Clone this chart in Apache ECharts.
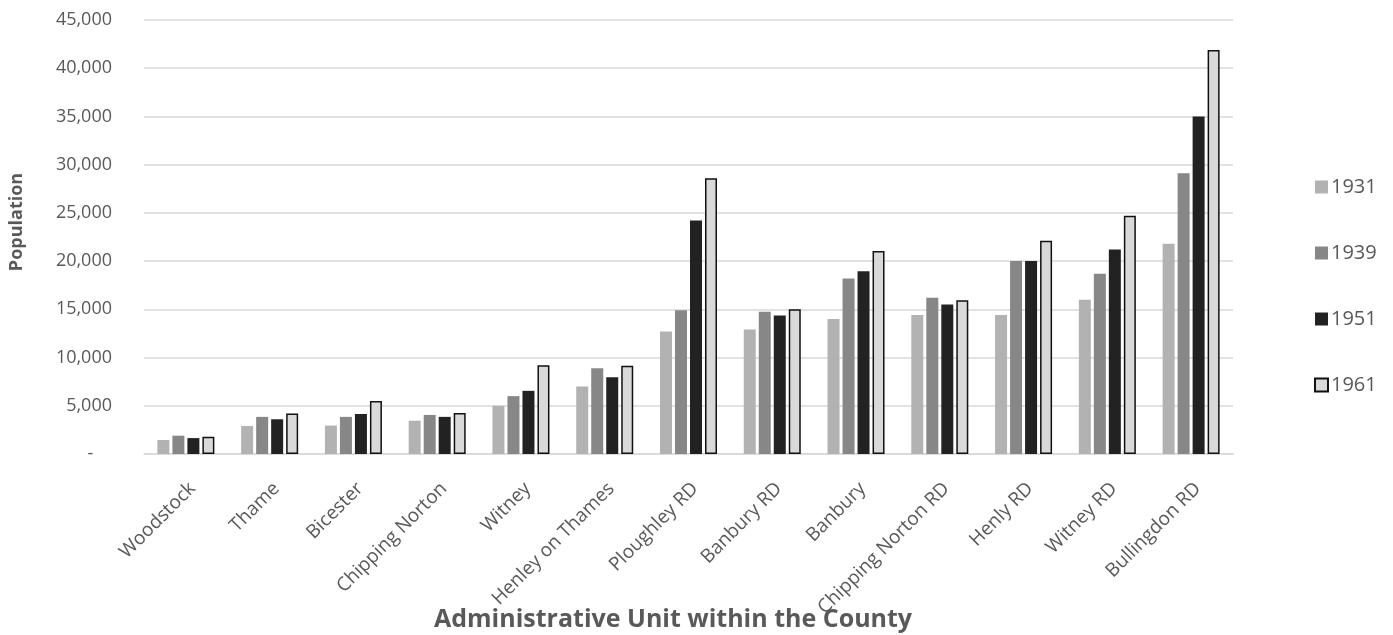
<!DOCTYPE html>
<html>
<head>
<meta charset="utf-8">
<script src="https://cdn.jsdelivr.net/npm/echarts@6/dist/echarts.min.js"></script>
<style>
  html, body { margin: 0; padding: 0; background: #fff; }
  #chart { width: 1393px; height: 635px; }
</style>
</head>
<body>
<div id="chart"></div>
<script>
// Population of administrative units, census years 1931-1961
const categories = ['Woodstock', 'Thame', 'Bicester', 'Chipping Norton', 'Witney', 'Henley on Thames',
  'Ploughley RD', 'Banbury RD', 'Banbury', 'Chipping Norton RD', 'Henly RD', 'Witney RD', 'Bullingdon RD'];
const pop1931 = [1450, 2900, 2950, 3450, 5000, 7000, 12700, 12900, 14000, 14400, 14400, 16000, 21800];
const pop1939 = [1900, 3850, 3850, 4050, 6000, 8900, 14900, 14750, 18200, 16200, 20000, 18700, 29100];
const pop1951 = [1650, 3600, 4150, 3850, 6550, 7950, 24200, 14350, 18950, 15500, 20000, 21200, 35000];
const pop1961 = [1800, 4200, 5500, 4250, 9200, 9150, 28600, 15000, 21050, 15950, 22100, 24700, 41900];
const yTicks = [0, 5000, 10000, 15000, 20000, 25000, 30000, 35000, 40000, 45000];

const FONT = '"Open Sans", "Noto Sans", sans-serif';
const TEXT = '#595959';

function fmt(v) {
  return v === 0 ? '-    ' : v.toLocaleString('en-US');
}

function barSeries(name, data, color, border) {
  return {
    name: name,
    type: 'bar',
    data: data,
    barWidth: 12,
    barGap: '25%',
    itemStyle: border
      ? { color: color, borderColor: '#111', borderWidth: 1.5 }
      : { color: color },
    emphasis: { disabled: true }
  };
}

const chart = echarts.init(document.getElementById('chart'), null, { renderer: 'canvas' });
chart.setOption({
  animation: false,
  textStyle: { fontFamily: FONT },
  grid: { left: 144, right: 160, top: 20, bottom: 181, containLabel: false },
  title: {
    text: 'Administrative Unit within the County',
    left: 429,
    top: 602,
    textStyle: { fontFamily: FONT, fontSize: 25, fontWeight: 'bold', color: TEXT }
  },
  legend: {
    orient: 'vertical',
    left: 1309,
    top: 172,
    itemWidth: 13,
    itemHeight: 13,
    itemGap: 46,
    icon: 'rect',
    textStyle: { fontFamily: FONT, fontSize: 20, color: TEXT, padding: [0, 0, 0, -2] },
    data: ['1931', '1939', '1951', '1961']
  },
  xAxis: {
    type: 'category',
    data: categories,
    axisLine: { lineStyle: { color: '#d9d9d9', width: 1.5 } },
    axisTick: { show: false },
    axisLabel: {
      rotate: 45, fontSize: 19, color: TEXT, fontFamily: FONT,
      margin: 25, interval: 0, align: 'right', verticalAlign: 'top'
    }
  },
  yAxis: {
    type: 'value',
    min: yTicks[0],
    max: yTicks[yTicks.length - 1],
    interval: yTicks[1] - yTicks[0],
    name: 'Population',
    nameLocation: 'middle',
    nameGap: 118,
    nameTextStyle: { fontFamily: FONT, fontSize: 18, fontWeight: 'bold', color: TEXT, padding: [0, 0, 0, 30] },
    axisLine: { show: false },
    axisTick: { show: false },
    splitLine: { lineStyle: { color: '#d9d9d9', width: 1.5 } },
    axisLabel: { fontSize: 18, color: TEXT, fontFamily: FONT, margin: 32, formatter: fmt }
  },
  series: [
    barSeries('1931', pop1931, '#b2b2b2', false),
    barSeries('1939', pop1939, '#878787', false),
    barSeries('1951', pop1951, '#222222', false),
    barSeries('1961', pop1961, '#d9d9d9', true)
  ]
});
</script>
</body>
</html>
